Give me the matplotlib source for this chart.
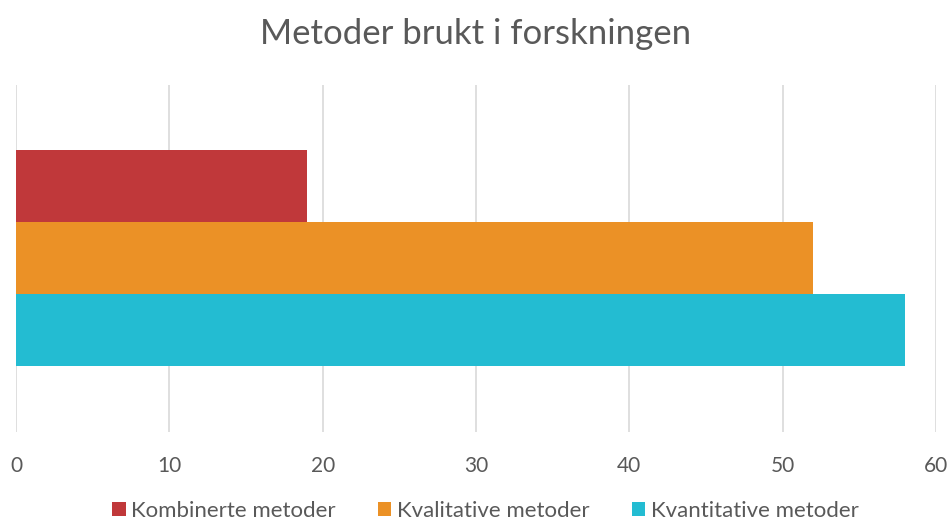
import matplotlib
matplotlib.use("Agg")
import matplotlib.pyplot as plt

plt.rcParams['font.family'] = ['Lato', 'DejaVu Sans']

# data
series = ['Kombinerte metoder', 'Kvalitative metoder', 'Kvantitative metoder']
values = [19, 52, 58]
colors = ['#C0383A', '#EB9126', '#23BCD2']
positions = [2, 1, 0]

title = 'Metoder brukt i forskningen'
xticks = [0, 10, 20, 30, 40, 50, 60]

fig = plt.figure(figsize=(9.52, 5.24), dpi=100)
ax = fig.add_axes([0.0168, 0.1756, 0.9664, 0.6622])

for name, val, col, pos in zip(series, values, colors, positions):
    ax.barh(pos, val, height=1.0, color=col, label=name, zorder=3)

ax.set_xlim(0, 60)
ax.set_ylim(-1.417, 3.403)
ax.set_xticks(xticks)
ax.set_yticks([])
ax.grid(axis='x', color='#D9D9D9', linewidth=1.2, zorder=0)
for s in ax.spines.values():
    s.set_visible(False)
ax.tick_params(axis='x', length=0, pad=17, labelsize=15, labelcolor='#595959')

fig.suptitle(title, y=0.965, fontsize=25, color='#595959')

fig.legend(loc='lower center', ncol=3, bbox_to_anchor=(0.51, -0.032), frameon=False,
           fontsize=16, labelcolor='#595959', handlelength=0.6, handleheight=0.6,
           handletextpad=0.25, columnspacing=1.9)

fig.savefig('out.png', dpi=100)
